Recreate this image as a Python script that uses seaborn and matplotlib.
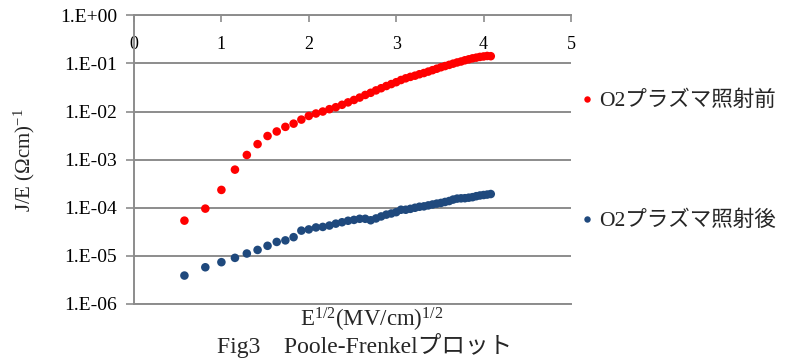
import numpy as np
import pandas as pd
import matplotlib
matplotlib.use("Agg")
import matplotlib.pyplot as plt
import matplotlib.ticker as mticker
import seaborn as sns

# ---- data ----
x_vals = [0.577, 0.816, 1.000, 1.155, 1.291, 1.414, 1.528, 1.633, 1.732, 1.826,
          1.915, 2.000, 2.082, 2.160, 2.236, 2.309, 2.380, 2.449, 2.517, 2.582,
          2.646, 2.708, 2.769, 2.828, 2.887, 2.944, 3.000, 3.055, 3.109, 3.162,
          3.215, 3.266, 3.317, 3.367, 3.416, 3.464, 3.512, 3.559, 3.606, 3.651,
          3.697, 3.742, 3.786, 3.830, 3.873, 3.916, 3.958, 4.000, 4.041, 4.082]

before_vals = [5.4e-5, 9.6e-5, 2.35e-4, 6.2e-4, 1.25e-3, 2.1e-3, 3.1e-3, 3.85e-3, 4.8e-3, 5.6e-3,
               6.8e-3, 8.1e-3, 9.1e-3, 1.0e-2, 1.12e-2, 1.23e-2, 1.38e-2, 1.55e-2, 1.74e-2, 1.95e-2,
               2.21e-2, 2.45e-2, 2.75e-2, 3.05e-2, 3.39e-2, 3.72e-2, 4.07e-2, 4.52e-2, 4.9e-2, 5.25e-2,
               5.56e-2, 5.96e-2, 6.31e-2, 6.76e-2, 7.24e-2, 7.76e-2, 8.32e-2, 8.81e-2, 9.33e-2, 9.89e-2,
               0.1047, 0.1096, 0.1161, 0.1216, 0.1274, 0.1318, 0.1365, 0.1396, 0.1429, 0.1413]

after_vals = [3.9e-6, 5.8e-6, 7.4e-6, 9.1e-6, 1.12e-5, 1.33e-5, 1.62e-5, 1.95e-5, 2.1e-5, 2.45e-5,
              3.35e-5, 3.55e-5, 3.9e-5, 4.0e-5, 4.27e-5, 4.68e-5, 5.0e-5, 5.37e-5, 5.6e-5, 5.9e-5,
              5.9e-5, 5.5e-5, 6.0e-5, 6.6e-5, 7.2e-5, 7.6e-5, 8.1e-5, 9.1e-5, 9.1e-5, 9.5e-5,
              1.0e-4, 1.05e-4, 1.07e-4, 1.12e-4, 1.17e-4, 1.22e-4, 1.26e-4, 1.32e-4, 1.38e-4, 1.48e-4,
              1.55e-4, 1.57e-4, 1.58e-4, 1.62e-4, 1.66e-4, 1.74e-4, 1.80e-4, 1.84e-4, 1.88e-4, 1.93e-4]

series_names = ["O2プラズマ照射前", "O2プラズマ照射後"]
series_colors = ["#FF0000", "#1F497D"]

x_ticks = [0, 1, 2, 3, 4, 5]
x_tick_labels = ["0", "1", "2", "3", "4", "5"]
y_ticks = [1e0, 1e-1, 1e-2, 1e-3, 1e-4, 1e-5, 1e-6]
y_tick_labels = ["1.E+00", "1.E-01", "1.E-02", "1.E-03", "1.E-04", "1.E-05", "1.E-06"]

x_label = r"E$^{\mathrm{1/2}}$(MV/cm)$^{\mathrm{1/2}}$"
y_label = r"J/E (Ωcm)$^{\mathrm{-1}}$"
caption = "Fig3\u3000Poole-Frenkelプロット"

# ---- style ----
sns.set_style("white")
plt.rcParams["font.family"] = ["Liberation Serif", "Noto Sans CJK JP"]
plt.rcParams["mathtext.fontset"] = "custom"
plt.rcParams["mathtext.rm"] = "Liberation Serif"
plt.rcParams["mathtext.it"] = "Liberation Serif:italic"
plt.rcParams["mathtext.bf"] = "Liberation Serif:bold"

df = pd.DataFrame({
    "x": x_vals * 2,
    "y": before_vals + after_vals,
    "series": [series_names[0]] * len(x_vals) + [series_names[1]] * len(x_vals),
})

fig = plt.figure(figsize=(7.87, 3.60), dpi=100)
ax = fig.add_axes([134 / 787, 1 - 304 / 360, (571 - 134) / 787, (304 - 15.3) / 360])

sns.scatterplot(data=df, x="x", y="y", hue="series", hue_order=series_names,
                palette=series_colors, s=38, edgecolor="none", linewidth=0,
                ax=ax, legend=True, zorder=3)

ax.set_yscale("log")
ax.set_ylim(1e-6, 1e0)
ax.set_xlim(0, 5)

grid_c = "#8c8c8c"
ax.set_yticks(y_ticks)
ax.yaxis.set_major_formatter(mticker.FixedFormatter(y_tick_labels))
ax.yaxis.set_minor_locator(mticker.NullLocator())
ax.set_xticks(x_ticks)
ax.set_xticklabels(x_tick_labels)
ax.yaxis.grid(True, color=grid_c, linewidth=1.4)
ax.xaxis.grid(False)

for side in ["left", "top", "bottom"]:
    ax.spines[side].set_visible(True)
    ax.spines[side].set_color(grid_c)
    ax.spines[side].set_linewidth(1.4)
ax.spines["right"].set_visible(False)

ax.tick_params(axis="y", which="major", left=True, direction="out", length=6,
               width=1.2, color=grid_c, labelsize=14, pad=6, labelcolor="black")
ax.tick_params(axis="x", which="major", top=True, bottom=False, labeltop=True,
               labelbottom=False, direction="in", length=5, width=1.2, color=grid_c,
               labelsize=13, pad=-27, labelcolor="black")

ax.set_xlabel("")
ax.set_ylabel(y_label, fontsize=15)
ax.yaxis.set_label_coords(-0.222, 0.5)

fig.text(372 / 787, 1 - 320 / 360, x_label, ha="center", va="center", fontsize=16.5)
fig.text(365 / 787, 1 - 345 / 360, caption, ha="center", va="center", fontsize=17)

handles, labels = ax.get_legend_handles_labels()
leg = ax.legend(handles, labels, loc="upper left", bbox_to_anchor=(582 / 787, 1 - 91 / 360),
                bbox_transform=fig.transFigure, frameon=False, fontsize=15.5,
                labelspacing=4.62, handlelength=0.5, handletextpad=0.3,
                borderpad=0, borderaxespad=0, markerscale=0.75)

fig.savefig("out.png", dpi=100)
